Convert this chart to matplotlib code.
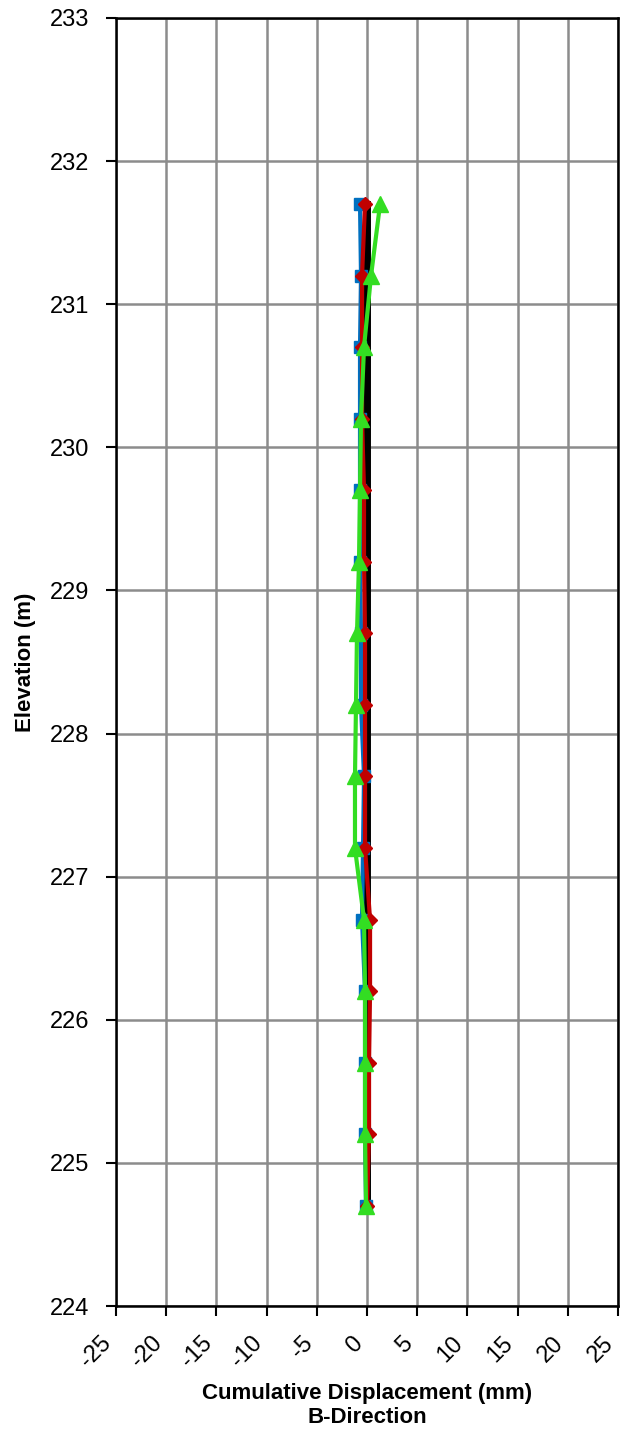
import matplotlib
matplotlib.use("Agg")
import matplotlib.pyplot as plt

plt.rcParams['font.family'] = ['Liberation Sans', 'DejaVu Sans']

# Elevations of the readings (m)
elevation = [224.7, 225.2, 225.7, 226.2, 226.7, 227.2, 227.7, 228.2,
             228.7, 229.2, 229.7, 230.2, 230.7, 231.2, 231.7]

# Cumulative displacement, B-direction (mm)
blue_disp = [-0.1, -0.2, -0.2, -0.2, -0.5, -0.4, -0.3, -0.6,
             -0.6, -0.7, -0.7, -0.7, -0.7, -0.6, -0.7]
red_disp = [0.0, 0.2, 0.2, 0.3, 0.3, -0.2, -0.2, -0.2,
            -0.2, -0.3, -0.3, -0.5, -0.5, -0.5, -0.2]
green_disp = [-0.1, -0.2, -0.2, -0.2, -0.3, -1.2, -1.2, -1.1,
              -1.0, -0.8, -0.7, -0.6, -0.3, 0.4, 1.3]
base_disp = [0.0] * len(elevation)

x_ticks = [-25, -20, -15, -10, -5, 0, 5, 10, 15, 20, 25]
y_ticks = [224, 225, 226, 227, 228, 229, 230, 231, 232, 233]

fig = plt.figure(figsize=(6.32, 14.36), dpi=100)
ax = fig.add_axes([0.1835, 0.0905, 0.7945, 0.897])

# Plot the profiles
ax.plot(base_disp, elevation, color="black", linewidth=5, zorder=3)
ax.plot(blue_disp, elevation, color="#0070c0", linewidth=3, marker="s",
        markersize=9, zorder=4)
ax.plot(red_disp, elevation, color="#c00000", linewidth=3, marker="D",
        markersize=7, zorder=5)
ax.plot(green_disp, elevation, color="#33dd22", linewidth=3, marker="^",
        markersize=11, zorder=6)

ax.set_xlim(-25, 25)
ax.set_ylim(224, 233)
ax.set_xticks(x_ticks)
ax.set_yticks(y_ticks)
ax.set_xticklabels([str(t) for t in x_ticks], rotation=45, ha="right",
                   fontsize=17)
ax.set_yticklabels([str(t) for t in y_ticks], fontsize=17)
ax.tick_params(axis="x", pad=12)
ax.tick_params(axis="y", pad=12)
ax.tick_params(direction="out", length=7, width=1.5, color="black")
ax.grid(True, color="#8c8c8c", linewidth=1.8)
ax.set_axisbelow(True)
for s in ax.spines.values():
    s.set_linewidth(1.8)
    s.set_color("black")

ax.set_ylabel("Elevation (m)", fontsize=16, fontweight="bold", labelpad=10)
ax.set_xlabel("Cumulative Displacement (mm)\nB-Direction", fontsize=16,
              fontweight="bold", labelpad=8, linespacing=1.15)

fig.savefig("out.png", dpi=100)
